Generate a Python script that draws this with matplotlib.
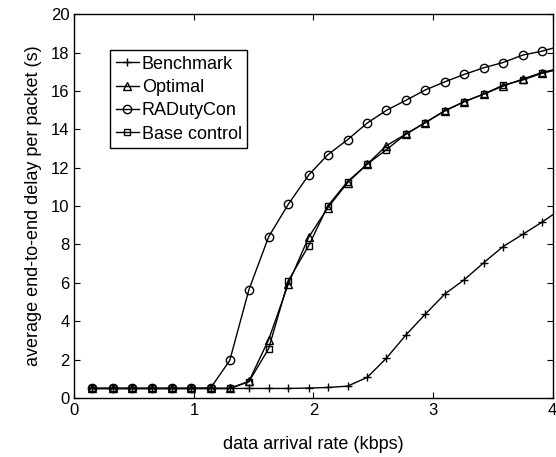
import matplotlib
matplotlib.use('Agg')
import matplotlib.pyplot as plt

plt.rcParams['font.family'] = ['Liberation Sans', 'DejaVu Sans']

# data arrival rate (kbps)
rate = [0.15, 0.32, 0.48, 0.65, 0.815, 0.98, 1.14, 1.30, 1.46, 1.625, 1.79, 1.96,
        2.12, 2.285, 2.45, 2.61, 2.775, 2.935, 3.10, 3.26, 3.425, 3.585, 3.75, 3.91, 4.07]

benchmark = [0.5, 0.5, 0.5, 0.5, 0.5, 0.5, 0.5, 0.5, 0.5, 0.5, 0.5, 0.52,
             0.55, 0.62, 1.08, 2.08, 3.3, 4.37, 5.43, 6.16, 7.06, 7.89, 8.53, 9.16, 9.85]
optimal = [0.5, 0.5, 0.5, 0.5, 0.5, 0.5, 0.5, 0.5, 0.87, 3.04, 5.95, 8.38,
           9.92, 11.22, 12.19, 13.15, 13.76, 14.35, 14.97, 15.44, 15.84, 16.25, 16.62, 16.96, 17.2]
radutycon = [0.5, 0.5, 0.5, 0.5, 0.5, 0.5, 0.52, 1.96, 5.64, 8.40, 10.10, 11.62,
             12.68, 13.46, 14.33, 14.99, 15.52, 16.05, 16.48, 16.86, 17.21, 17.48, 17.87, 18.07, 18.35]
base_control = [0.5, 0.5, 0.5, 0.5, 0.5, 0.5, 0.5, 0.5, 0.85, 2.57, 6.12, 7.94,
                10.01, 11.28, 12.19, 12.94, 13.76, 14.35, 14.97, 15.44, 15.84, 16.3, 16.57, 16.92, 17.15]

fig = plt.figure(figsize=(5.56, 4.57), dpi=100)
ax = fig.add_axes([0.1336, 0.129, 0.8604, 0.840])

ax.plot(rate, benchmark, color='black', lw=1, marker='+', ms=6, mew=1, label='Benchmark')
ax.plot(rate, optimal, color='black', lw=1, marker='^', ms=6, mfc='none', mew=1, label='Optimal')
ax.plot(rate, radutycon, color='black', lw=1, marker='o', ms=6, mfc='none', mew=1, label='RADutyCon')
ax.plot(rate, base_control, color='black', lw=1, marker='s', ms=4.5, mfc='none', mew=1, label='Base control')

ax.set_xlim(0, 4)
ax.set_ylim(0, 20)
ax.set_xticks([0, 1, 2, 3, 4])
ax.set_yticks(range(0, 21, 2))
ax.tick_params(direction='in', top=True, right=True, labelsize=12, length=4)
for s in ax.spines.values():
    s.set_linewidth(1)

ax.set_xlabel('data arrival rate (kbps)', fontsize=13, labelpad=13)
ax.set_ylabel('average end-to-end delay per packet (s)', fontsize=13, labelpad=6)

leg = ax.legend(loc='upper left', bbox_to_anchor=(0.075, 0.906), borderaxespad=0,
                fontsize=13, handlelength=1.3, handletextpad=0.15, labelspacing=0.35,
                borderpad=0.3, fancybox=False, framealpha=1, edgecolor='black')
leg.get_frame().set_linewidth(1)

fig.savefig('out.png', dpi=100)
